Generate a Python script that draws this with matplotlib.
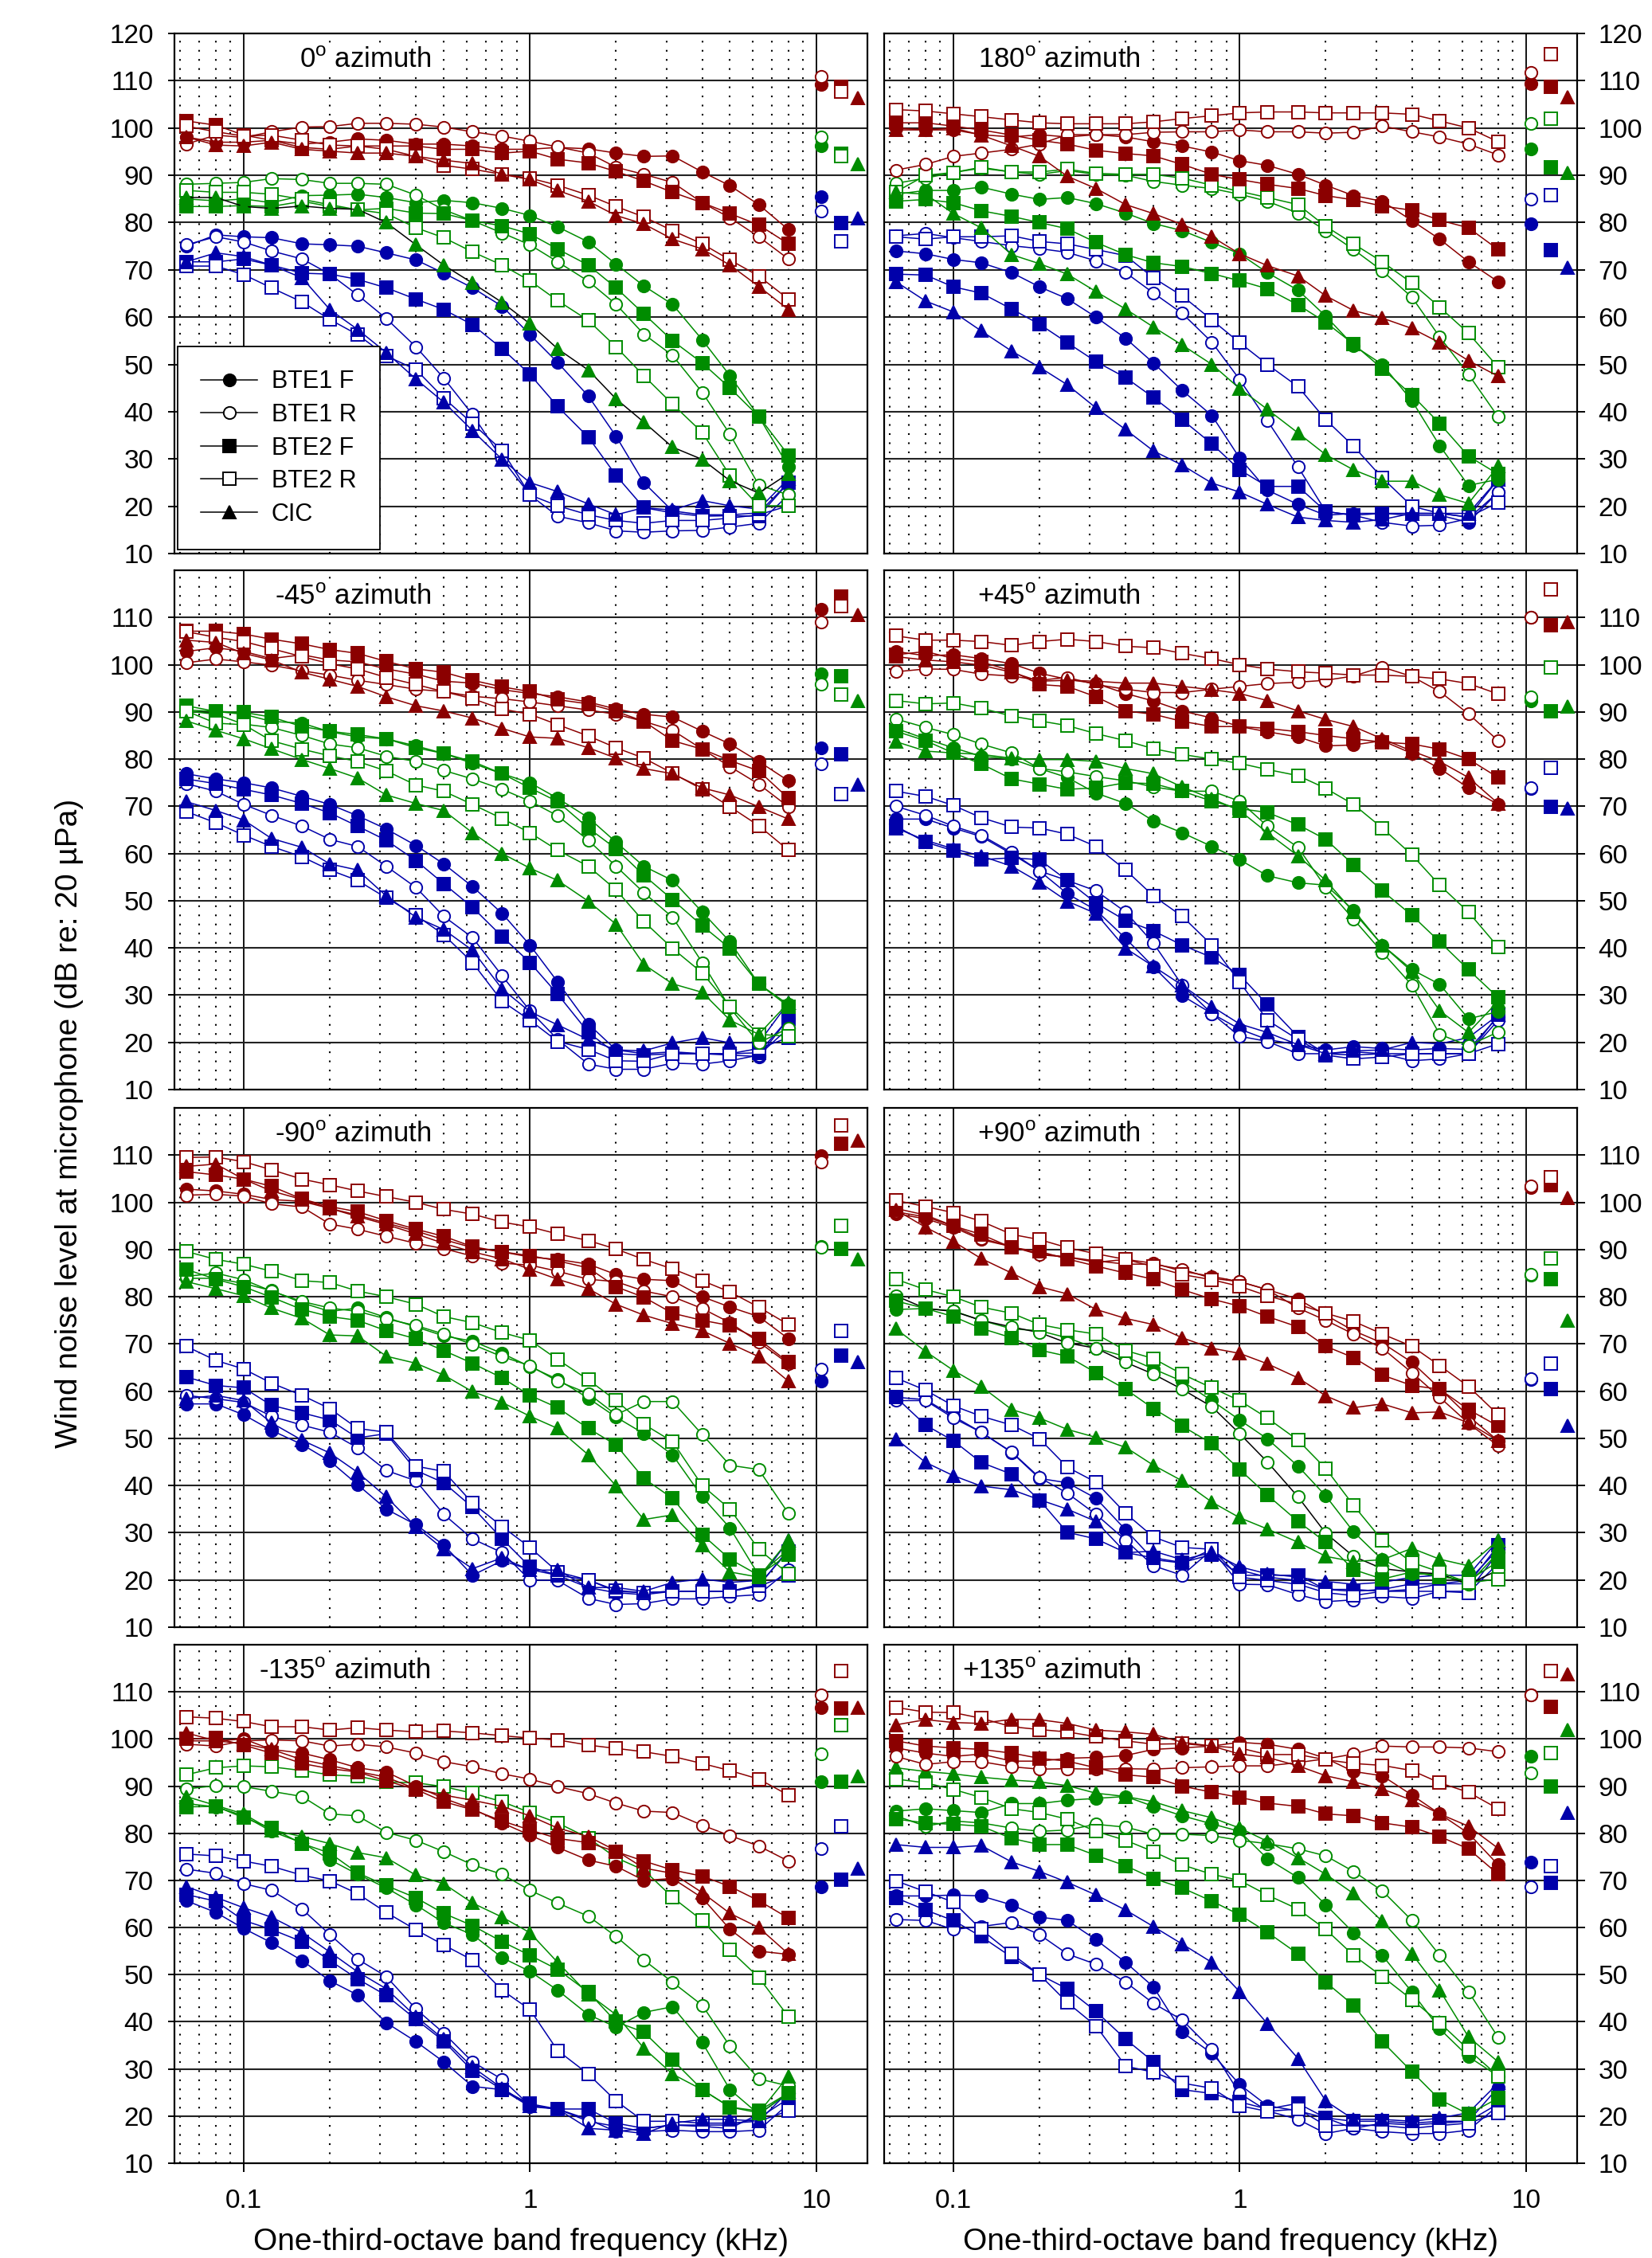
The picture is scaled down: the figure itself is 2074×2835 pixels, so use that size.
"""Wind noise spectra at the microphone for five hearing-aid configurations, eight azimuths."""
import matplotlib
matplotlib.use("Agg")
import matplotlib.pyplot as plt
from matplotlib.lines import Line2D
from matplotlib.ticker import NullLocator

plt.rcParams["font.family"] = ["Liberation Sans", "DejaVu Sans"]
plt.rcParams["mathtext.fontset"] = "custom"
plt.rcParams["mathtext.rm"] = "Liberation Sans"

# ── Data ──────────────────────────────────────────────────────────────────────
FREQ = [0.063, 0.08, 0.1, 0.125, 0.16, 0.2, 0.25, 0.315, 0.4, 0.5, 0.63,
        0.8, 1.0, 1.25, 1.6, 2.0, 2.5, 3.15, 4.0, 5.0, 6.3, 8.0]
DEVICES = ["BTE1 F", "BTE1 R", "BTE2 F", "BTE2 R", "CIC"]
OVERALL_X = [10.4, 10.4, 12.2, 12.2, 14.0]   # where the overall levels sit

# 0 deg
az0_r_bte1f = [98.1, 97, 97, 97.4, 96.6, 97, 97.7, 97.4, 96.6, 96.6, 96.2, 95.5, 95.5, 95.9, 95.6, 94.7, 94, 94.1, 90.7, 87.8, 83.8, 78.5]
az0_r_bte1r = [96.6, 98.5, 98, 99.2, 100.2, 100.3, 101, 101, 100.8, 100.2, 99.2, 98.3, 97.2, 96, 94.7, 91.7, 90.2, 88.5, 84.2, 81, 77, 72.3]
az0_r_bte2f = [101.5, 100.6, 98.5, 97.4, 95.9, 95.5, 96.2, 96.2, 96.2, 95.5, 95.5, 94.7, 95.1, 93.4, 92.6, 90.8, 88.8, 86.4, 84.2, 81.9, 79.5, 75.5]
az0_r_bte2r = [100.4, 99.2, 98.3, 98.5, 97.4, 96.4, 96.2, 95.5, 94, 92.1, 91.3, 90.2, 89.4, 87.9, 85.8, 83.4, 81.2, 78.3, 75.5, 72.1, 68.7, 63.8]
az0_r_cic = [98.1, 96.4, 96.2, 97, 95.5, 95.1, 94.7, 94.7, 94, 93.2, 92.5, 90.2, 89.1, 86.8, 84.5, 81.5, 79.7, 76.5, 74.4, 71, 66.5, 61.6]
az0_g_bte1f = [85, 84.6, 85, 84.2, 85.7, 85.8, 86, 85.3, 84.2, 84.7, 84.2, 83, 81.5, 79.1, 75.9, 71.2, 66.6, 62.7, 55.2, 47.6, 39, 28.4]
az0_g_bte1r = [88.1, 88.3, 88.5, 89.3, 89.1, 88.3, 88.3, 88.1, 85.8, 82.7, 80.4, 77.8, 75.3, 71.7, 67.6, 62.7, 56.4, 51.9, 44.1, 35.2, 24.5, 22.4]
az0_g_bte2f = [83.4, 83.4, 83.6, 83.4, 84.5, 83.4, 82.7, 83, 82, 81.9, 80.4, 79.3, 77.6, 74.4, 71, 66.2, 60.7, 55, 50.3, 45, 39, 30.8]
az0_g_bte2r = [86.8, 86.4, 86.4, 86, 84.9, 83.8, 82.7, 81.9, 78.9, 76.8, 73.8, 71, 67.7, 63.5, 59.3, 53.7, 47.6, 41.6, 35.6, 26.5, 20.1, 20.1]
az0_g_cic = [85.3, 85.3, 83.4, 83, 83.5, 83, 82.8, 80, 75.3, 71, 67.2, 63.1, 58.6, 53.3, 48.8, 42.7, 37.8, 32.5, 29.9, 25.4, 22.8, 26.9]
az0_b_bte1f = [75, 77.4, 77, 76.8, 75.5, 75.3, 75, 73.6, 72.1, 69.3, 66.2, 62.3, 56.3, 50.4, 43.3, 34.8, 25, 19, 18.2, 18.2, 18.6, 25]
az0_b_bte1r = [75.3, 77, 75.9, 74, 72.3, 69.1, 64.7, 59.7, 53.7, 47.1, 39.4, 30, 22.4, 17.9, 16.5, 14.8, 14.5, 14.8, 14.9, 15.6, 16.4, 22.4]
az0_b_bte2f = [71.7, 71.7, 72.3, 71, 69.3, 69.1, 68, 66.2, 63.8, 61.6, 58.4, 53.3, 47.9, 41.1, 34.6, 26.5, 19.7, 18.6, 17.9, 18, 17.9, 25]
az0_b_bte2r = [70.8, 70.8, 69, 66.2, 63.2, 59.5, 56.3, 51.8, 48.9, 42.9, 37.5, 31.8, 22.4, 20.1, 18.2, 17, 16.4, 17, 17, 17.5, 18.2, 20.1]
az0_b_cic = [71.7, 73.6, 72.8, 71, 68.3, 61.6, 57.4, 52.5, 46.9, 42, 36, 29.9, 25, 23.1, 20.5, 18.2, 19.7, 19.2, 21.2, 20.1, 19.4, 25.8]
az0_total_r = [109.2, 110.9, 108.7, 107.7, 106.4]
az0_total_g = [96.2, 98.1, 94.5, 94.1, 92.3]
az0_total_b = [85.5, 82.5, 79.9, 76.1, 81]

# 180 deg
az180_r_bte1f = [100, 99.6, 99.6, 98.6, 98.1, 98.6, 98.1, 98.6, 98.1, 97.1, 96.2, 94.9, 93.1, 92.1, 90.2, 87.9, 85.7, 84.5, 80.4, 76.5, 71.7, 67.5]
az180_r_bte1r = [91.1, 92.3, 94, 94.7, 95.5, 96.6, 98.6, 98.6, 98.6, 99.1, 99.2, 99.2, 99.6, 99.2, 99.2, 98.9, 99.1, 100.4, 99.2, 98.1, 96.6, 94.3]
az180_r_bte2f = [101.1, 101.1, 100.4, 99.6, 98.5, 97.4, 96.6, 95.3, 94.6, 94.1, 92.3, 90.2, 89.1, 88.1, 87.2, 85.7, 84.8, 83.5, 82.6, 80.5, 78.9, 74.3]
az180_r_bte2r = [103.9, 103.6, 103, 102.4, 101.7, 101.1, 100.9, 100.9, 100.9, 101.3, 102, 102.6, 103.2, 103.4, 103.4, 103.2, 103.2, 103.2, 102.9, 101.5, 100, 97.1]
az180_r_cic = [99.6, 99.6, 100, 98.5, 96.2, 94, 89.8, 87.2, 83.8, 81.9, 79.6, 77, 73.4, 70.9, 68.7, 64.5, 61.4, 59.8, 57.6, 54.6, 50.8, 47.5]
az180_g_bte1f = [86, 86.8, 86.8, 87.5, 86, 84.9, 85.3, 84, 82, 79.8, 78.3, 75.8, 73.4, 69.4, 65.7, 60.2, 54, 50, 42.3, 32.8, 24.4, 25.7]
az180_g_bte1r = [88.3, 89.4, 90.6, 91.5, 90.7, 90.2, 91, 90.2, 90, 88.7, 87.9, 87.2, 86, 84.5, 82, 78.3, 74.3, 69.8, 64.2, 55.8, 47.9, 38.9]
az180_g_bte2f = [84.5, 84.9, 84.2, 82.5, 81.3, 80, 78.7, 75.8, 73.2, 71.5, 70.7, 69.2, 67.7, 66, 62.6, 58.9, 54.3, 49.1, 43.5, 37.5, 30.6, 26.8]
az180_g_bte2r = [86.5, 90, 90.6, 91.7, 90.7, 90.7, 91.3, 90.4, 90.2, 90.2, 89.4, 87.9, 86.6, 85.3, 83.8, 79.2, 75.5, 71.7, 67.2, 62.1, 56.6, 49.4]
az180_g_cic = [86.4, 86, 81.9, 78.9, 73.2, 71.3, 69.1, 65.4, 61.7, 57.9, 54.1, 50, 44.9, 40.5, 35.5, 30.9, 27.7, 25.3, 25.3, 22.4, 20.6, 28.5]
az180_b_bte1f = [74, 73.4, 72.2, 71.5, 69.4, 66.4, 63.9, 60, 55.5, 50.3, 44.5, 39.2, 30.2, 23.4, 20.4, 18.1, 18.5, 18.5, 18.1, 18.1, 16.6, 23]
az180_b_bte1r = [77.2, 77.7, 76.8, 76, 75.1, 74.5, 73.7, 71.9, 69.4, 65.1, 60.8, 54.7, 46.8, 38.1, 28.3, 18.9, 18.1, 16.6, 15.8, 16, 17.4, 23]
az180_b_bte2f = [69.1, 68.9, 66.4, 65.1, 61.7, 58.5, 54.6, 50.6, 47.2, 43, 38.3, 33.2, 27.7, 24.2, 24.2, 18.9, 18.1, 18.5, 18.5, 18.5, 17.7, 25.7]
az180_b_bte2r = [77, 76.5, 77, 77, 77.2, 76, 75.5, 74.3, 73, 68.3, 64.5, 59.4, 54.6, 50, 45.3, 38.3, 32.7, 26, 20, 18.5, 17.7, 20.8]
az180_b_cic = [67.5, 63.4, 61.1, 57.1, 52.8, 49.4, 45.7, 40.8, 36.2, 31.7, 28.7, 24.9, 23, 20.4, 17.7, 17, 16.6, 17.2, 18.5, 18.5, 18.5, 25.7]
az180_total_r = [109.4, 111.7, 108.7, 115.7, 106.6]
az180_total_g = [95.6, 100.9, 91.7, 102, 90.6]
az180_total_b = [79.8, 84.9, 74.1, 85.8, 70.4]

# -45 deg
azm45_r_bte1f = [102.8, 103.6, 102.8, 101.3, 102.1, 101, 100.6, 99.1, 98, 96.5, 96.1, 94.7, 93.9, 93.2, 92.1, 90.6, 89.5, 88.9, 85.9, 83.2, 79.5, 75.4]
azm45_r_bte1r = [100.4, 101.2, 100.6, 99.9, 98.7, 97.8, 96.7, 95.8, 94.8, 94.3, 93.3, 92.8, 92.1, 91.3, 90.4, 89.5, 88, 86.1, 82.1, 78.4, 74.7, 69.9]
azm45_r_bte2f = [107.1, 107.1, 106.5, 105.4, 104.4, 103.2, 102.4, 100.7, 99.1, 98.4, 96.7, 95.3, 94.3, 92.6, 91.7, 90.1, 88, 83.9, 82.1, 79.7, 77.5, 71.7]
azm45_r_bte2r = [107, 105.8, 104.9, 103.4, 101.7, 100.2, 99.1, 97.3, 95.8, 94.3, 92.8, 90.6, 89.5, 87.3, 84.9, 82.4, 80.2, 77, 73.6, 69.9, 65.9, 60.7]
azm45_r_cic = [105.2, 104.7, 102.4, 101, 98.4, 96.9, 95.4, 93.2, 91.3, 90.2, 88.7, 86.5, 84.7, 84.4, 82.4, 80.2, 78, 76.9, 73.9, 72.4, 69.9, 67.3]
azm45_g_bte1f = [90.4, 90.1, 89.5, 88, 87.6, 85.8, 84.7, 84.3, 82.8, 81.2, 79.1, 76.9, 75, 71.7, 67.6, 62.4, 57.3, 54.3, 47.6, 41.3, 32.4, 28]
azm45_g_bte1r = [90.2, 89.5, 87.4, 86.7, 85, 83.2, 82.4, 80.6, 79.5, 77.6, 75.8, 73.6, 71.1, 68, 62.8, 57.3, 51.7, 46.5, 36.9, 27.3, 19.9, 23]
azm45_g_bte2f = [91.3, 90.1, 89.9, 88.9, 86.9, 85.9, 85.2, 84.3, 82.4, 81.2, 79.5, 76.9, 73.9, 71, 65.4, 61, 55.4, 50.2, 44.7, 39.9, 32.4, 27.6]
azm45_g_bte2r = [90.2, 87.6, 87.3, 83.9, 82.1, 80.7, 79.5, 77.5, 74.5, 73.2, 70.4, 67.4, 64.4, 60.7, 57.3, 52.3, 45.6, 39.9, 34.7, 27.6, 21.7, 21.3]
azm45_g_cic = [88.1, 86.1, 84.3, 82.2, 79.9, 78, 76, 72.4, 70.6, 69.1, 64.4, 60, 56.9, 54.3, 49.9, 45, 36.5, 32.4, 30.6, 24.7, 21.7, 28.4]
azm45_b_bte1f = [76.9, 75.8, 75, 73.9, 72.1, 70.4, 68, 65.2, 61.7, 57.8, 53, 47.3, 40.6, 32.8, 23.9, 18.4, 17.6, 18, 17.6, 17.3, 17, 25]
azm45_b_bte1r = [74.8, 73.2, 70.4, 68.1, 65.8, 63, 61.5, 57.3, 52.8, 46.7, 42.2, 34.1, 26.7, 20.6, 15.4, 14.3, 14.3, 15.6, 15.4, 16.1, 17.3, 23]
azm45_b_bte2f = [75.8, 74.8, 73.6, 72.4, 70.6, 68.6, 65.8, 62.8, 58.5, 53.6, 48.6, 42.4, 36.9, 30.2, 22.1, 17.6, 17.3, 17.6, 17.6, 17.6, 17.8, 25]
azm45_b_bte2r = [68.9, 66.5, 63.9, 61.5, 59.3, 56.5, 54.3, 50.6, 46.9, 42.8, 36.9, 28.7, 24.7, 20.2, 18.5, 16.1, 16, 17.6, 17.6, 17.6, 18.7, 21]
azm45_b_cic = [71, 69.1, 67.1, 63.2, 61.3, 57.8, 56.5, 51, 46.5, 43.9, 39.5, 31.3, 26.5, 23.7, 20.6, 18.4, 18.2, 19.9, 21, 19.9, 19.9, 28.4]
azm45_total_r = [111.7, 109.1, 114.4, 112.4, 110.6]
azm45_total_g = [98, 95.8, 97.5, 93.6, 92.4]
azm45_total_b = [82.4, 79, 81, 72.6, 74.7]

# +45 deg
azp45_r_bte1f = [102.8, 101.9, 102.1, 101.3, 100.2, 98.2, 96.9, 96, 93.9, 92.3, 90.2, 88.7, 86.9, 85.8, 84.7, 82.8, 83, 83.9, 81.2, 78, 73.9, 70.4]
azp45_r_bte1r = [98.5, 99.1, 99, 98, 97.6, 96.7, 97.3, 95.8, 94.8, 94.1, 94.1, 94.8, 95.4, 96, 96.3, 96.7, 97.6, 99.5, 97.5, 94.3, 89.6, 83.9]
azp45_r_bte2f = [102.1, 102.8, 101.3, 100.6, 98.7, 95.8, 95.4, 93.2, 90.2, 89.5, 88, 86.9, 86.9, 86.5, 85.8, 85, 84.3, 83.6, 83.2, 82.1, 80, 76.1]
azp45_r_bte2r = [106.1, 105.2, 105.2, 104.9, 104.1, 104.9, 105.4, 104.9, 103.9, 103.6, 102.4, 101.3, 100, 99.1, 98.5, 98.2, 97.8, 97.8, 97.5, 97, 96, 93.8]
azp45_r_cic = [101.7, 101, 100.6, 99.9, 98.4, 96.5, 96.7, 96.5, 96.1, 96.1, 95.4, 94.7, 93.9, 92.4, 90.2, 88.4, 86.9, 84.3, 81.7, 79.5, 76.1, 70.6]
azp45_g_bte1f = [86.5, 84.3, 82.4, 80.6, 80, 78, 76.1, 72.8, 70.6, 66.9, 64.4, 61.5, 58.7, 55.3, 53.8, 53.3, 48, 40.6, 35.4, 32.3, 25, 26.5]
azp45_g_bte1r = [88.5, 86.7, 85.2, 83.2, 81.3, 78, 77.3, 76.3, 75.4, 74.1, 73.2, 73.2, 71.1, 65.8, 61.3, 52.8, 46.1, 39.1, 32.1, 21.7, 19.3, 22.2]
azp45_g_bte2f = [85.9, 83.9, 81.3, 79, 75.8, 74.7, 73.6, 73.9, 75, 74.8, 73.2, 71.1, 69.5, 68.7, 66.1, 63, 57.6, 52.1, 46.9, 41.3, 35.4, 29.5]
azp45_g_bte2r = [92.4, 91.7, 91.9, 90.8, 89.1, 88.1, 87.1, 85.4, 83.9, 82.2, 81, 80, 79.1, 77.8, 76.5, 73.8, 70.4, 65.4, 59.7, 53.3, 47.6, 40.2]
azp45_g_cic = [83.7, 81.7, 81.3, 81, 80.2, 79.9, 79.9, 79.5, 78, 76.9, 74.1, 71.6, 69.1, 64.4, 59.5, 54.3, 47.6, 40.6, 35, 26.7, 22.1, 28.7]
azp45_b_bte1f = [67.3, 67.3, 65.4, 63.6, 59.9, 56.3, 51.5, 48, 42, 36, 29.9, 26.1, 22.8, 20.6, 19.5, 18.4, 19.1, 18.7, 18.4, 18.7, 18.5, 25.4]
azp45_b_bte1r = [70, 68.1, 65.8, 63.9, 60.2, 56.3, 54.3, 52.1, 47.6, 41, 32.1, 26.1, 21.3, 20.2, 17.6, 17.6, 18, 17.6, 16.1, 16.5, 17.6, 24.7]
azp45_b_bte2f = [65.8, 62.4, 60.6, 58.7, 59.1, 58.7, 54.3, 49.5, 45.8, 43.6, 40.6, 38, 34.3, 28, 21.2, 17.6, 17.3, 17.6, 17.6, 17.6, 17.6, 25.8]
azp45_b_bte2r = [73.2, 72.1, 70.2, 67.6, 65.6, 65.4, 64.1, 61.5, 56.5, 51, 46.7, 40.6, 32.8, 24.7, 20.6, 17.3, 16.5, 16.9, 17.6, 17.6, 17.6, 19.7]
azp45_b_cic = [65.4, 62.8, 61, 59.5, 57.3, 53.9, 49.9, 47.3, 39.9, 36.1, 32.1, 27.6, 23.9, 22.1, 19.5, 17.6, 18.2, 18.4, 20, 19.7, 21, 25.8]
azp45_total_r = [110, 110, 108.4, 116, 109.1]
azp45_total_g = [92.4, 93.2, 90.2, 99.5, 91.1]
azp45_total_b = [73.7, 73.9, 69.9, 78.2, 69.6]

# -90 deg
azm90_r_bte1f = [102.8, 102.4, 101.7, 100.6, 100.2, 98.7, 97.3, 95.6, 93.9, 92.1, 90.4, 89.5, 88.4, 87.9, 86.9, 84.7, 83.7, 83.4, 80, 77.8, 75.8, 71.1]
azm90_r_bte1r = [101.5, 101.7, 101.3, 99.7, 99, 95.4, 94.3, 92.8, 91.3, 90.2, 88.6, 87.1, 86.7, 85.4, 83.7, 83.2, 81.2, 80, 77.5, 74.5, 70.4, 65.8]
azm90_r_bte2f = [106.5, 105.8, 104.9, 103.4, 100.7, 99.1, 98, 96.1, 94.3, 92.8, 90.6, 89.5, 88.7, 87.6, 86.1, 82.1, 79.9, 76.5, 75, 73.9, 71, 66.1]
azm90_r_bte2r = [109.5, 109.6, 108.6, 106.9, 104.9, 103.7, 102.4, 101.2, 100, 98.5, 97.5, 95.8, 94.8, 93.3, 91.9, 90.1, 87.9, 85.9, 83.4, 81, 77.8, 74.1]
azm90_r_cic = [107.6, 108.1, 104.9, 102.4, 100.6, 98.7, 97, 95.3, 93.3, 91.3, 89.5, 88, 85.8, 83.7, 81.7, 78.4, 76.1, 74.3, 72.8, 70.1, 67.3, 62.1]
azm90_g_bte1f = [83.9, 83.9, 82.8, 81.3, 78.7, 76.9, 77.6, 75.6, 73.6, 71.7, 70.6, 68, 65.2, 62.5, 58.5, 54.5, 51, 46.5, 37.6, 31, 21, 26.5]
azm90_g_bte1r = [84.3, 85, 83.6, 81.2, 79, 77.6, 76.9, 75.3, 73.9, 72.1, 69.9, 67.3, 65.4, 62.1, 59.5, 55, 57.8, 57.8, 50.8, 44.3, 43.4, 34.1]
azm90_g_bte2f = [85.8, 83.7, 82.1, 79.9, 77.3, 75.8, 75, 72.8, 71.1, 68.6, 65.9, 62.8, 59.1, 56.5, 52.1, 48.6, 41.5, 37.3, 29.6, 24.4, 21, 25.4]
azm90_g_bte2r = [89.6, 87.9, 86.9, 85.4, 83.4, 83, 81.2, 80, 78.4, 75.8, 74.5, 72.4, 70.8, 66.7, 62.4, 58, 53, 49.3, 40, 35, 26.5, 21.3]
azm90_g_cic = [83.2, 81.7, 80.2, 77.6, 75.4, 71.9, 71.7, 67.4, 65.9, 63.4, 59.9, 57.6, 54.7, 52.1, 46.5, 39.9, 32.8, 33.8, 27.3, 21.7, 20.6, 28.4]
azm90_b_bte1f = [57.3, 57.3, 55, 51.7, 48.7, 45.2, 40.2, 35, 31.7, 27.4, 21, 24.1, 22.2, 21, 18.4, 17.3, 16.9, 17.6, 17.6, 17.6, 18.7, 26.5]
azm90_b_bte1r = [59.1, 58.4, 57.6, 54.7, 52.8, 51.3, 48, 43.2, 41, 33.9, 28.7, 25.8, 20, 19.9, 16.1, 14.8, 15, 16, 16, 16.5, 16.9, 22.1]
azm90_b_bte2f = [63, 61.2, 60.7, 57, 55.4, 53.9, 50.1, 51, 43.2, 40.6, 35.4, 28.7, 22.8, 21, 20, 17.6, 17.3, 17.6, 17.6, 17.6, 19, 26.1]
azm90_b_bte2r = [69.5, 66.5, 64.7, 61.7, 59.1, 56.3, 52.1, 51.3, 44.1, 43, 36.3, 31.3, 26.9, 21.7, 20, 17.8, 17.3, 17.6, 17.6, 17.6, 18.7, 21]
azm90_b_cic = [58.4, 59.1, 58, 53.3, 49.6, 46.9, 42.8, 37.6, 31.3, 26.5, 22.4, 24.7, 22.1, 22.1, 18.4, 18.4, 17.6, 19.5, 20.2, 19.5, 19.9, 28.4]
azm90_total_r = [109.9, 108.6, 112.4, 116.3, 113]
azm90_total_g = [90.6, 90.4, 90.2, 95, 87.9]
azm90_total_b = [62.2, 64.7, 67.6, 72.8, 66.1]

# +90 deg
azp90_r_bte1f = [97.6, 96.5, 94.7, 92.1, 90.6, 89.1, 88.4, 87.3, 87.9, 87.1, 85.4, 84.3, 83.2, 81.5, 79.5, 76.1, 72.8, 70.2, 66.1, 60.6, 54.7, 49.5]
azp90_r_bte1r = [98, 96.9, 95, 92.4, 90.6, 88.9, 88.4, 87.6, 86.9, 86.9, 85.8, 83.9, 83.2, 81.5, 77.6, 75, 72.1, 69.1, 63.9, 58.7, 53.2, 48.4]
azp90_r_bte2f = [98.7, 97.3, 95, 93.2, 90.4, 89.6, 88, 86.5, 85, 83.7, 81.5, 79.5, 78, 75.8, 73.6, 69.5, 67.1, 63.4, 61.2, 60.4, 56.1, 52.6]
azp90_r_bte2r = [100.4, 99.1, 97.8, 96, 93.2, 92.1, 90.4, 89.1, 87.9, 86.4, 84.7, 83.6, 82.2, 80.2, 78.4, 76.5, 74.8, 72.1, 69.5, 65.4, 61, 55]
azp90_r_cic = [98.4, 94.7, 91.7, 88.1, 85, 82.1, 80.6, 77.3, 75.4, 74.1, 71.3, 69.1, 68, 65.8, 62.8, 59, 56.5, 57.3, 55.4, 55.6, 53.3, 49.5]
azp90_g_bte1f = [77.3, 77.5, 77, 75, 73.2, 72.8, 71.3, 69.1, 67.3, 64.7, 62.1, 58, 53.9, 49.9, 44.1, 37.8, 30.2, 24.3, 21.3, 21.2, 19.1, 25.8]
azp90_g_bte1r = [80.2, 77.5, 76.9, 75, 73.6, 72.4, 70.2, 69.1, 66.1, 63.6, 60.4, 56.7, 51, 45, 37.6, 29.9, 25, 22.4, 21.7, 21.3, 19.1, 22.1]
azp90_g_bte2f = [79.1, 77.5, 75.8, 73.3, 71.3, 68.7, 67.4, 63.9, 60.4, 56.3, 52.6, 48.9, 43.4, 38, 32.4, 28, 22.2, 20.2, 21.7, 20.7, 19.9, 23.9]
azp90_g_bte2r = [83.7, 81.5, 80, 77.8, 76.5, 74.1, 73, 72.1, 68.6, 66.9, 63.6, 60.7, 58, 54.3, 49.6, 43.6, 35.8, 28.4, 23.7, 21.7, 19.4, 20.2]
azp90_g_cic = [73.2, 68.4, 64.4, 61, 56.1, 54.3, 51.9, 50.2, 48.1, 44.3, 41, 36.5, 33.2, 30.8, 28, 25, 23.9, 24.3, 26.7, 24.4, 23, 28.4]
azp90_b_bte1f = [58.7, 58.2, 54.7, 51.3, 47, 41.5, 40.6, 37.3, 30.6, 24.3, 23.6, 26.5, 22.1, 20.6, 19.9, 18, 18, 17.6, 18, 19.2, 19.9, 26.5]
azp90_b_bte1r = [58, 58, 54.3, 51.3, 47.1, 41.7, 38.4, 33.9, 28.4, 23, 21, 26.4, 19.1, 19, 16.9, 15.4, 15.8, 16.5, 16.1, 17.6, 17.6, 25.8]
azp90_b_bte2f = [58.7, 52.8, 49.5, 44.9, 42.4, 36.9, 30.1, 28.7, 25.8, 24.7, 23.7, 25.4, 21, 21, 21, 18, 17.6, 18, 19.2, 19.2, 19.2, 27.3]
azp90_b_bte2r = [62.8, 60.2, 56.9, 54.7, 52.8, 49.9, 43.9, 40.7, 34.1, 29.1, 26.9, 26.5, 20.6, 19.9, 19.1, 17.3, 16.7, 17.6, 17.6, 17.6, 17.3, 23.5]
azp90_b_cic = [49.9, 44.9, 42.1, 39.9, 39.1, 37, 35, 32.4, 25.8, 26.1, 24.3, 25.8, 22.8, 21.3, 20.6, 19.7, 19.1, 19.5, 20.6, 21, 21, 28.4]
azp90_total_r = [103.2, 103.4, 103.7, 105.4, 101]
azp90_total_g = [84.5, 84.7, 83.7, 88.1, 75]
azp90_total_b = [62.5, 62.7, 60.4, 65.9, 52.6]

# -135 deg
azm135_r_bte1f = [99.6, 99.6, 100, 97.8, 97, 95.6, 93.9, 93, 90, 87.4, 85.2, 82.2, 79.6, 77, 74.3, 73, 70, 70.4, 66.3, 59.6, 55, 54.3]
azm135_r_bte1r = [98.9, 98.5, 99.6, 99.8, 99.6, 98.5, 98.9, 98.3, 97, 95.2, 94.1, 92.6, 91.5, 89.9, 88.4, 86.4, 84.7, 84.4, 81.7, 79.5, 77.3, 74.1]
azm135_r_bte2f = [100, 100.2, 98.7, 97, 94.8, 93.7, 93, 91.1, 89.3, 86.7, 85, 82.6, 80.7, 78.9, 78, 76.1, 74.1, 72.2, 70.9, 68.7, 65.7, 62]
azm135_r_bte2r = [104.7, 104.4, 103.7, 102.6, 102.6, 101.9, 102.4, 101.9, 101.5, 101.7, 101.3, 100.7, 100.2, 99.8, 98.7, 98, 97.3, 96.3, 94.8, 93.3, 91.5, 88.1]
azm135_r_cic = [101.3, 99.6, 99, 97.8, 95.6, 94.4, 93.1, 91.9, 89.4, 88.1, 87, 85.7, 83.7, 81.1, 79.3, 76.3, 72.6, 71.5, 67.4, 63, 60, 54.4]
azm135_g_bte1f = [86.3, 85.6, 83.7, 80.4, 78, 74.4, 71.3, 68.4, 64.8, 61, 58.5, 53.6, 50.7, 46.7, 41.5, 38.9, 42, 43.2, 35.6, 25.6, 20.4, 24.9]
azm135_g_bte1r = [89.4, 90.1, 89.9, 88.9, 87.8, 84.1, 83.7, 80.2, 78.5, 76.1, 73.3, 71.3, 67.9, 65.2, 62.4, 58.1, 53.1, 48.4, 43.5, 34.8, 27.9, 26.4]
azm135_g_bte2f = [85.6, 85.7, 83.3, 81.1, 77.8, 75.8, 71.6, 68.9, 66.3, 63, 60.4, 57, 54.1, 51.1, 46.3, 40, 37.8, 31.9, 25.6, 21.9, 21.1, 24.9]
azm135_g_bte2r = [92.4, 93.9, 94.3, 94.1, 93.3, 92.4, 92.1, 90.9, 90.7, 89.9, 88.5, 86.7, 84.4, 82.2, 79, 74.8, 72.2, 66.4, 61.5, 55.2, 49.4, 41.1]
azm135_g_cic = [87.8, 85.9, 84.1, 80.7, 79.3, 77.8, 75.9, 74.8, 71.1, 69.3, 65.2, 62.2, 58.9, 52.6, 45.9, 41.5, 34.4, 28.9, 25.6, 21.9, 20.7, 28.5]
azm135_b_bte1f = [65.7, 63.2, 59.8, 56.8, 53, 48.7, 45.7, 39.8, 35.8, 31.5, 26.3, 25.6, 22, 21.5, 19.3, 16.7, 17.4, 18.1, 17.8, 17.4, 20.4, 24.9]
azm135_b_bte1r = [72.4, 71.5, 69.3, 67.9, 63.9, 58.5, 53.3, 49.6, 42.7, 37.6, 31.5, 27.8, 22.2, 21.5, 18.9, 17.8, 16.7, 17, 16.7, 16.7, 17, 22.6]
azm135_b_bte2f = [67, 65.6, 61.5, 59.6, 57, 53, 49.1, 45.6, 40.5, 35.9, 29.6, 25.6, 22.6, 21.5, 21.5, 18.5, 17.4, 18.1, 18.1, 18.1, 19.6, 23.7]
azm135_b_bte2r = [75.6, 75.2, 74.1, 73, 71.1, 69.9, 67.2, 63.2, 59.5, 56.3, 53.1, 46.7, 42.6, 33.9, 28.9, 23.2, 18.9, 18.9, 18.5, 18.5, 18.9, 21.1]
azm135_b_cic = [68.7, 66.4, 64.2, 62.2, 58.9, 54.8, 50.6, 47, 41.1, 36.3, 30.4, 25.9, 22.2, 21.5, 17.4, 17, 16.3, 18.5, 19.3, 19.3, 18.9, 25.2]
azm135_total_r = [106.7, 109.4, 106.4, 114.4, 106.7]
azm135_total_g = [90.9, 96.8, 90.9, 103, 92.1]
azm135_total_b = [68.7, 76.8, 70.1, 81.5, 72.6]

# +135 deg
azp135_r_bte1f = [98.1, 97, 96.3, 96.8, 95.3, 95.3, 95.9, 96.1, 96.5, 97.8, 98.1, 98.5, 99.3, 98.9, 97.8, 95.9, 93.1, 92.2, 88.1, 84.1, 80, 73.3]
azp135_r_bte1r = [96.3, 94.6, 95.2, 95.2, 94.1, 93.6, 93.7, 93.6, 93.7, 93.6, 93.9, 94.1, 94.3, 94.3, 95, 95.8, 96.8, 98.5, 98.3, 98.3, 98.1, 97.3]
azp135_r_bte2f = [99.6, 98.5, 98.1, 97.8, 97, 95.9, 95.3, 93.9, 92.4, 91.9, 90, 88.7, 87.6, 86.4, 85.7, 84.1, 83.7, 82.2, 81.3, 79.3, 76.7, 71.3]
azp135_r_bte2r = [106.7, 105.7, 105.6, 104.4, 102.6, 102, 101.5, 100.5, 99.6, 98.9, 99, 98.5, 98.1, 96.7, 96.7, 95.6, 94.8, 94.4, 93.3, 90.7, 88.7, 85.2]
azp135_r_cic = [103, 104.1, 103.5, 103.3, 104.2, 104.1, 103.3, 101.9, 101.5, 101, 99.3, 98.5, 96.8, 96.1, 94.3, 92.2, 90.9, 89.4, 87, 84.1, 81.5, 76.8]
azp135_g_bte1f = [84.7, 85.2, 84.8, 84.4, 86.3, 86.3, 87, 87.4, 87.8, 85.7, 83.7, 82, 80.4, 74.6, 70.6, 64.8, 58.9, 54.1, 46.3, 38.5, 32.6, 28.5]
azp135_g_bte1r = [83.7, 81.5, 82.6, 82.2, 81.1, 80.4, 80.7, 81.9, 81.3, 79.8, 79.8, 79.5, 78.5, 77.8, 76.7, 75.2, 71.9, 67.8, 61.5, 54.1, 46.4, 36.7]
azp135_g_bte2f = [83, 82.2, 81.9, 81.5, 78.9, 77.6, 77.6, 75.3, 73.1, 70.4, 68.4, 65.6, 62.7, 59, 54.4, 48.4, 43.5, 35.8, 29.4, 23.5, 20.4, 23.8]
azp135_g_bte2r = [91.5, 90.7, 89.3, 87.6, 85.2, 84.4, 83, 80.4, 78.5, 76.1, 73.3, 71.3, 70, 66.9, 63.9, 59.6, 54.1, 49.6, 44.7, 39.8, 34.1, 28.5]
azp135_g_cic = [93.9, 93.1, 92.6, 91.9, 91.3, 90.9, 90.1, 88.5, 87.8, 86.7, 84.8, 83.3, 81.1, 78.3, 74.8, 71.3, 67.2, 61.3, 54.4, 46.7, 36.8, 31.5]
azp135_b_bte1f = [66.7, 66.7, 66.9, 66.7, 64.8, 62.2, 61.5, 57.4, 52.6, 47.4, 37.8, 33.3, 26.7, 22.2, 21.1, 19.6, 17.4, 18.5, 18.1, 18.5, 18.9, 26.1]
azp135_b_bte1r = [61.7, 61.5, 59.6, 60.2, 61.1, 58.5, 54.4, 52.2, 48.4, 43.9, 40.4, 34.1, 24.8, 21.1, 19.3, 16.3, 17.4, 16.7, 16.3, 16.3, 17, 22.2]
azp135_b_bte2f = [66.3, 63.7, 61.5, 58.1, 53.7, 50, 47, 42.2, 36.3, 31.5, 25.6, 24.8, 23, 21.5, 22.7, 19.6, 18.9, 18.9, 18.5, 18.9, 18.9, 22.6]
azp135_b_bte2r = [69.9, 67.6, 65.4, 59.6, 54.4, 50, 44.1, 39.1, 30.6, 29.3, 27, 25.9, 22.2, 21, 21.5, 18, 18.1, 18, 17.4, 18, 18.5, 20.7]
azp135_b_cic = [77.6, 77, 77, 77.4, 73.9, 71.9, 69.6, 66.9, 63.7, 60.2, 56.5, 52.6, 46.4, 39.6, 32.2, 23.2, 19.3, 19.3, 18.9, 19.6, 20.7, 27]
azp135_total_r = [109.3, 109.3, 106.9, 114.4, 113.7]
azp135_total_g = [96.3, 92.8, 90, 97, 102]
azp135_total_b = [73.9, 68.6, 69.4, 73.1, 84.4]

# ── Assemble panels (row-major: left, right) ─────────────────────────────────
def group(*series):
    return list(series)

PANELS = [
    ("0", {"r": group(az0_r_bte1f, az0_r_bte1r, az0_r_bte2f, az0_r_bte2r, az0_r_cic),
           "g": group(az0_g_bte1f, az0_g_bte1r, az0_g_bte2f, az0_g_bte2r, az0_g_cic),
           "b": group(az0_b_bte1f, az0_b_bte1r, az0_b_bte2f, az0_b_bte2r, az0_b_cic)},
     {"r": az0_total_r, "g": az0_total_g, "b": az0_total_b}),
    ("180", {"r": group(az180_r_bte1f, az180_r_bte1r, az180_r_bte2f, az180_r_bte2r, az180_r_cic),
             "g": group(az180_g_bte1f, az180_g_bte1r, az180_g_bte2f, az180_g_bte2r, az180_g_cic),
             "b": group(az180_b_bte1f, az180_b_bte1r, az180_b_bte2f, az180_b_bte2r, az180_b_cic)},
     {"r": az180_total_r, "g": az180_total_g, "b": az180_total_b}),
    ("-45", {"r": group(azm45_r_bte1f, azm45_r_bte1r, azm45_r_bte2f, azm45_r_bte2r, azm45_r_cic),
             "g": group(azm45_g_bte1f, azm45_g_bte1r, azm45_g_bte2f, azm45_g_bte2r, azm45_g_cic),
             "b": group(azm45_b_bte1f, azm45_b_bte1r, azm45_b_bte2f, azm45_b_bte2r, azm45_b_cic)},
     {"r": azm45_total_r, "g": azm45_total_g, "b": azm45_total_b}),
    ("+45", {"r": group(azp45_r_bte1f, azp45_r_bte1r, azp45_r_bte2f, azp45_r_bte2r, azp45_r_cic),
             "g": group(azp45_g_bte1f, azp45_g_bte1r, azp45_g_bte2f, azp45_g_bte2r, azp45_g_cic),
             "b": group(azp45_b_bte1f, azp45_b_bte1r, azp45_b_bte2f, azp45_b_bte2r, azp45_b_cic)},
     {"r": azp45_total_r, "g": azp45_total_g, "b": azp45_total_b}),
    ("-90", {"r": group(azm90_r_bte1f, azm90_r_bte1r, azm90_r_bte2f, azm90_r_bte2r, azm90_r_cic),
             "g": group(azm90_g_bte1f, azm90_g_bte1r, azm90_g_bte2f, azm90_g_bte2r, azm90_g_cic),
             "b": group(azm90_b_bte1f, azm90_b_bte1r, azm90_b_bte2f, azm90_b_bte2r, azm90_b_cic)},
     {"r": azm90_total_r, "g": azm90_total_g, "b": azm90_total_b}),
    ("+90", {"r": group(azp90_r_bte1f, azp90_r_bte1r, azp90_r_bte2f, azp90_r_bte2r, azp90_r_cic),
             "g": group(azp90_g_bte1f, azp90_g_bte1r, azp90_g_bte2f, azp90_g_bte2r, azp90_g_cic),
             "b": group(azp90_b_bte1f, azp90_b_bte1r, azp90_b_bte2f, azp90_b_bte2r, azp90_b_cic)},
     {"r": azp90_total_r, "g": azp90_total_g, "b": azp90_total_b}),
    ("-135", {"r": group(azm135_r_bte1f, azm135_r_bte1r, azm135_r_bte2f, azm135_r_bte2r, azm135_r_cic),
              "g": group(azm135_g_bte1f, azm135_g_bte1r, azm135_g_bte2f, azm135_g_bte2r, azm135_g_cic),
              "b": group(azm135_b_bte1f, azm135_b_bte1r, azm135_b_bte2f, azm135_b_bte2r, azm135_b_cic)},
     {"r": azm135_total_r, "g": azm135_total_g, "b": azm135_total_b}),
    ("+135", {"r": group(azp135_r_bte1f, azp135_r_bte1r, azp135_r_bte2f, azp135_r_bte2r, azp135_r_cic),
              "g": group(azp135_g_bte1f, azp135_g_bte1r, azp135_g_bte2f, azp135_g_bte2r, azp135_g_cic),
              "b": group(azp135_b_bte1f, azp135_b_bte1r, azp135_b_bte2f, azp135_b_bte2r, azp135_b_cic)},
     {"r": azp135_total_r, "g": azp135_total_g, "b": azp135_total_b}),
]

# ── Style ─────────────────────────────────────────────────────────────────────
COLORS = {"r": "#8b0000", "g": "#008c00", "b": "#0000aa"}
MARKERS = ["o", "o", "s", "s", "^"]
FILLED = [True, False, True, False, True]
# two series in the original were drawn with a black connecting line
BLACK_LINE = {("0", "g"): 4, ("+90", "g"): 1}
MS, MEW, LW = 11, 1.4, 1.1
FS = 24        # tick labels
FS_LABEL = 28  # axis titles

W, H = 2074, 2835
COLS = [219, 1110]
PW = 870
ROWS = [(42, 695), (716, 1368), (1391, 2043), (2065, 2716)]
MINOR = [0.06, 0.07, 0.08, 0.09] + [k / 10 for k in range(2, 10)] + list(range(2, 10))

fig = plt.figure(figsize=(W / 100, H / 100), dpi=100)

for idx, (az, curves, totals) in enumerate(PANELS):
    row, col = divmod(idx, 2)
    top, bot = ROWS[row]
    ax = fig.add_axes([COLS[col] / W, 1 - bot / H, PW / W, (bot - top) / H])
    ax.set_xscale("log")
    ax.set_xlim(0.0573, 15.1)
    ax.set_ylim(10, 120)

    for xm in MINOR:
        ax.axvline(xm, color="black", lw=1.5, ls=(0, (1, 4.5)), zorder=1)
    for xm in (0.1, 1, 10):
        ax.axvline(xm, color="black", lw=1.3, zorder=1)
    for ym in range(20, 120, 10):
        ax.axhline(ym, color="#222222", lw=1.5, zorder=1)

    for key in ("b", "g", "r"):
        c = COLORS[key]
        for k, vals in enumerate(curves[key]):
            line_c = "black" if BLACK_LINE.get((az, key)) == k else c
            ax.plot(FREQ, vals, color=line_c, lw=LW, marker=MARKERS[k], ms=MS,
                    mec=c, mfc=c if FILLED[k] else "white", mew=MEW, zorder=3)
        for k, v in enumerate(totals[key]):
            ax.plot([OVERALL_X[k]], [v], ls="none", marker=MARKERS[k], ms=MS,
                    mec=c, mfc=c if FILLED[k] else "white", mew=MEW, zorder=3,
                    clip_on=False)

    ax.text(0.37, 0.948, az + r"$^{\mathregular{o}}$ azimuth", transform=ax.transAxes,
            ha="right", va="center", fontsize=25, zorder=5,
            bbox=dict(facecolor="white", edgecolor="none", pad=1))

    for s in ax.spines.values():
        s.set_linewidth(1.6)

    yt = list(range(10, 130, 10)) if row == 0 else list(range(10, 120, 10))
    ax.set_yticks(yt)
    ax.set_yticklabels([str(v) for v in yt])
    if col == 0:
        ax.tick_params(axis="y", left=True, right=False, labelleft=True,
                       labelright=False, direction="out", length=6, width=1.4,
                       pad=13, labelsize=FS)
    else:
        ax.tick_params(axis="y", left=False, right=True, labelleft=False,
                       labelright=True, direction="out", length=7, width=1.4,
                       pad=12, labelsize=FS)

    ax.set_xticks([0.1, 1, 10])
    ax.xaxis.set_minor_locator(NullLocator())
    if row == len(ROWS) - 1:
        ax.set_xticklabels(["0.1", "1", "10"])
        ax.tick_params(axis="x", direction="out", length=8, width=1.4, pad=15,
                       labelsize=FS)
        fig.text((COLS[col] + PW / 2) / W, 1 - 2815 / H,
                 "One-third-octave band frequency (kHz)", ha="center",
                 va="center", fontsize=FS_LABEL)
    else:
        ax.tick_params(axis="x", length=0, labelbottom=False)

    if idx == 0:
        handles = [Line2D([0], [0], color="black", lw=LW, marker=MARKERS[k], ms=MS,
                          mec="black", mfc="black" if FILLED[k] else "white", mew=MEW)
                   for k in range(5)]
        leg = ax.legend(handles, DEVICES, loc="lower left", bbox_to_anchor=(0.005, 0.008),
                        borderaxespad=0, fontsize=22, handlelength=2.3,
                        labelspacing=0.38, handletextpad=0.6, borderpad=0.95,
                        fancybox=False, framealpha=1, edgecolor="black")
        leg.get_frame().set_linewidth(1.3)
        leg.set_zorder(6)

fig.text(87 / W, 1 - 1410 / H, "Wind noise level at microphone (dB re: 20 µPa)",
         rotation=90, ha="center", va="center", fontsize=FS_LABEL)

fig.savefig("out.png", dpi=100)
